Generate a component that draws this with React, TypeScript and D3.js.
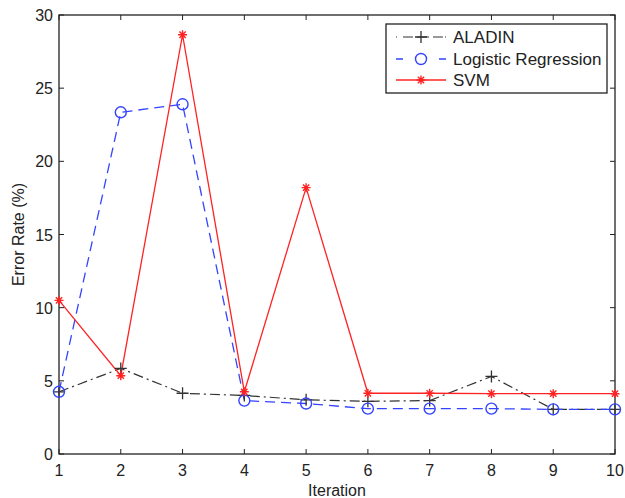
import React from "react";
import * as d3 from "d3";

const iterations = [1, 2, 3, 4, 5, 6, 7, 8, 9, 10];
const aladin = [4.25, 5.85, 4.15, 4.0, 3.7, 3.6, 3.65, 5.3, 3.05, 3.05];
const logistic = [4.25, 23.35, 23.9, 3.65, 3.45, 3.1, 3.1, 3.1, 3.05, 3.05];
const svm = [10.5, 5.35, 28.65, 4.25, 18.2, 4.15, 4.15, 4.12, 4.12, 4.12];
const yTicks = [0, 5, 10, 15, 20, 25, 30];
const seriesNames = ["ALADIN", "Logistic Regression", "SVM"];

const W = 625, H = 498;
const M = { left: 59, right: 10, top: 15, bottom: 44 };

export default function App() {
  const x = d3.scaleLinear().domain([1, 10]).range([M.left, W - M.right]);
  const y = d3.scaleLinear().domain([0, 30]).range([H - M.bottom, M.top]);
  const line = d3.line<number>().x((_, i) => x(iterations[i])).y((d) => y(d));
  const font = "Liberation Sans, Arial, Helvetica, sans-serif";
  const fs = 16;
  const x0 = x(1), x1 = x(10), y0 = y(0), y1 = y(30);
  const tl = 5;

  const plus = (cx: number, cy: number, s: number, c: string, k: string) => (
    <path key={k} d={`M${cx - s},${cy}H${cx + s}M${cx},${cy - s}V${cy + s}`} stroke={c} strokeWidth={1.3} fill="none" />
  );
  const star = (cx: number, cy: number, s: number, c: string, k: string) => (
    <path key={k}
      d={`M${cx - s},${cy}H${cx + s}M${cx},${cy - s}V${cy + s}M${cx - s * 0.7},${cy - s * 0.7}L${cx + s * 0.7},${cy + s * 0.7}M${cx - s * 0.7},${cy + s * 0.7}L${cx + s * 0.7},${cy - s * 0.7}`}
      stroke={c} strokeWidth={1.4} fill="none" />
  );

  const cBlack = "#333333", cBlue = "#3344ff", cRed = "#ff2222";
  const lg = { x: 386, y: 24, w: 221, h: 69 };
  const rows = [lg.y + 13, lg.y + 35, lg.y + 56];

  return (
    <svg width={W} height={H} style={{ position: "absolute", left: 0, top: 0, background: "#fff" }}>
      <rect x={0} y={0} width={W} height={H} fill="#fff" />
      <rect x={x0} y={y1} width={x1 - x0} height={y0 - y1} fill="none" stroke="#222" strokeWidth={1.3} />
      {iterations.map((t) => (
        <g key={"xt" + t}>
          <line x1={x(t)} x2={x(t)} y1={y0} y2={y0 - tl} stroke="#222" />
          <line x1={x(t)} x2={x(t)} y1={y1} y2={y1 + tl} stroke="#222" />
          <text x={x(t)} y={y0 + 22} textAnchor="middle" fontFamily={font} fontSize={fs} fill="#222">{t}</text>
        </g>
      ))}
      {yTicks.map((t) => (
        <g key={"yt" + t}>
          <line x1={x0} x2={x0 + tl} y1={y(t)} y2={y(t)} stroke="#222" />
          <line x1={x1} x2={x1 - tl} y1={y(t)} y2={y(t)} stroke="#222" />
          <text x={x0 - 6} y={y(t) + 6} textAnchor="end" fontFamily={font} fontSize={fs} fill="#222">{t}</text>
        </g>
      ))}
      <text x={(x0 + x1) / 2} y={H - 2} textAnchor="middle" fontFamily={font} fontSize={fs} fill="#222">Iteration</text>
      <text transform={`translate(24,${(y0 + y1) / 2}) rotate(-90)`} textAnchor="middle" fontFamily={font} fontSize={fs} fill="#222">Error Rate (%)</text>

      <path d={line(aladin) || ""} fill="none" stroke={cBlack} strokeWidth={1.2} strokeDasharray="10,4,2,4" />
      <path d={line(logistic) || ""} fill="none" stroke={cBlue} strokeWidth={1.3} strokeDasharray="10,6" />
      <path d={line(svm) || ""} fill="none" stroke={cRed} strokeWidth={1.3} />
      {aladin.map((v, i) => plus(x(iterations[i]), y(v), 6, cBlack, "a" + i))}
      {logistic.map((v, i) => (
        <circle key={"l" + i} cx={x(iterations[i])} cy={y(v)} r={5.5} fill="none" stroke={cBlue} strokeWidth={1.4} />
      ))}
      {svm.map((v, i) => star(x(iterations[i]), y(v), 4.5, cRed, "s" + i))}

      <rect x={lg.x} y={lg.y} width={lg.w} height={lg.h} fill="#fff" stroke="#222" strokeWidth={1.3} />
      <line x1={lg.x + 10} x2={lg.x + 60} y1={rows[0]} y2={rows[0]} stroke={cBlack} strokeWidth={1.2} strokeDasharray="1,6,10,4,12,4,10,2,1,20" />
      {plus(lg.x + 35, rows[0], 6, cBlack, "lgA")}
      <line x1={lg.x + 10} x2={lg.x + 60} y1={rows[1]} y2={rows[1]} stroke={cBlue} strokeWidth={1.3} strokeDasharray="7,36,7,10" />
      <circle cx={lg.x + 35} cy={rows[1]} r={5.5} fill="none" stroke={cBlue} strokeWidth={1.4} />
      <line x1={lg.x + 10} x2={lg.x + 60} y1={rows[2]} y2={rows[2]} stroke={cRed} strokeWidth={1.3} />
      {star(lg.x + 35, rows[2], 4.5, cRed, "lgS")}
      {seriesNames.map((n, i) => (
        <text key={n} x={lg.x + 67} y={rows[i] + 6} fontFamily={font} fontSize={17} fill="#222">{n}</text>
      ))}
    </svg>
  );
}
